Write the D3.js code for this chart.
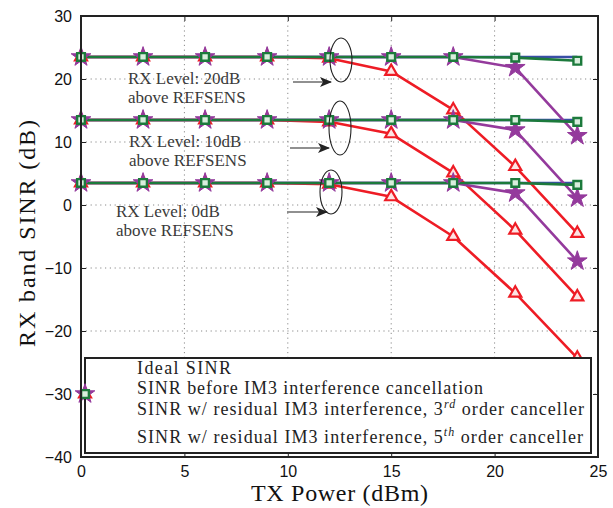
<!DOCTYPE html>
<html>
<head>
<meta charset="utf-8">
<script src="https://cdn.jsdelivr.net/npm/d3@7"></script>
<style>
  html, body { margin: 0; padding: 0; background: #fff; }
  svg { display: block; }
  .tick-label { font-family: "Liberation Sans", Arial, sans-serif; font-size: 16px; fill: #111; }
  .serif { font-family: "Liberation Serif", "Times New Roman", serif; }
</style>
</head>
<body>
<div id="chart"></div>
<script>
// --- Data ---
const txPower = [0, 3, 6, 9, 12, 15, 18, 21, 24];
const rxLevels = ['20dB', '10dB', '0dB'];

// one row per RX level (20, 10, 0 dB above REFSENS)
const idealSinr = [
  [23.5, 23.5, 23.5, 23.5, 23.5, 23.5, 23.5, 23.5, 23.5],
  [13.5, 13.5, 13.5, 13.5, 13.5, 13.5, 13.5, 13.5, 13.5],
  [3.5, 3.5, 3.5, 3.5, 3.5, 3.5, 3.5, 3.5, 3.5]
];
const sinrBefore = [
  [23.5, 23.5, 23.5, 23.5, 23.3, 21.2, 15.1, 6.1, -4.5],
  [13.5, 13.5, 13.5, 13.5, 13.2, 11.3, 5.1, -4.0, -14.6],
  [3.5, 3.5, 3.5, 3.5, 3.3, 1.3, -5.0, -14.0, -24.3]
];
const sinr3rd = [
  [23.5, 23.5, 23.5, 23.5, 23.5, 23.5, 23.5, 21.8, 11.0],
  [13.5, 13.5, 13.5, 13.5, 13.5, 13.5, 13.5, 11.9, 1.1],
  [3.5, 3.5, 3.5, 3.5, 3.5, 3.5, 3.5, 1.9, -8.9]
];
const sinr5th = [
  [23.5, 23.5, 23.5, 23.5, 23.5, 23.5, 23.5, 23.4, 22.9],
  [13.5, 13.5, 13.5, 13.5, 13.5, 13.5, 13.5, 13.5, 13.2],
  [3.5, 3.5, 3.5, 3.5, 3.5, 3.5, 3.5, 3.5, 3.2]
];

const xTicks = [0, 5, 10, 15, 20, 25];
const yTicks = [-40, -30, -20, -10, 0, 10, 20, 30];

const legendLabels = [
  ['Ideal SINR'],
  ['SINR before IM3 interference cancellation'],
  ['SINR w/ residual IM3 interference, 3', 'rd', ' order canceller'],
  ['SINR w/ residual IM3 interference, 5', 'th', ' order canceller']
];

// annotation: text lines, where the text sits, where the arrow points, the ellipse
const notes = [
  { lines: ['RX Level: 20dB', 'above REFSENS'], tx: 128, ty: 84, ax1: 293, ax2: 331, ay: 82, ex: 341, ey: 60, rx: 11, ry: 22 },
  { lines: ['RX Level: 10dB', 'above REFSENS'], tx: 129, ty: 147, ax1: 290, ax2: 329, ay: 148, ex: 340, ey: 128, rx: 11, ry: 27 },
  { lines: ['RX Level: 0dB', 'above REFSENS'], tx: 116, ty: 217, ax1: 287, ax2: 327, ay: 212, ex: 331, ey: 192, rx: 11, ry: 22 }
];

// --- Setup ---
const W = 613, H = 508;
const margin = { left: 81, right: 15, top: 16, bottom: 51 };

const svg = d3.select('#chart').append('svg')
  .attr('width', W)
  .attr('height', H);

const x = d3.scaleLinear().domain([0, 25]).range([margin.left, W - margin.right]);
const y = d3.scaleLinear().domain([-40, 30]).range([H - margin.bottom, margin.top]);

const colors = { ideal: '#3a4ea6', before: '#ee1c25', third: '#943a9c', fifth: '#1c7a3c' };

// --- Grid ---
const grid = svg.append('g').attr('stroke', '#8a8a8a').attr('stroke-dasharray', '1.2,3.6').attr('stroke-width', 1);
grid.selectAll('.gx').data(xTicks.slice(1, -1)).enter().append('line')
  .attr('x1', d => x(d)).attr('x2', d => x(d))
  .attr('y1', y(30)).attr('y2', y(-40));
grid.selectAll('.gy').data(yTicks.slice(1, -1)).enter().append('line')
  .attr('x1', x(0)).attr('x2', x(25))
  .attr('y1', d => y(d)).attr('y2', d => y(d));

// --- Axes (ticks in, on all four sides, like matlab box on) ---
const axisBottom = d3.axisBottom(x).tickValues(xTicks).tickSizeInner(-5).tickSizeOuter(0).tickPadding(9);
const axisLeft = d3.axisLeft(y).tickValues(yTicks).tickSizeInner(-5).tickSizeOuter(0).tickPadding(9);
const axisTop = d3.axisTop(x).tickValues(xTicks).tickSizeInner(-5).tickSizeOuter(0).tickFormat('');
const axisRight = d3.axisRight(y).tickValues(yTicks).tickSizeInner(-5).tickSizeOuter(0).tickFormat('');

function styleAxis(g) {
  g.select('.domain').remove();
  g.selectAll('.tick line').attr('stroke', '#222').attr('stroke-width', 1);
  g.selectAll('.tick text').attr('class', 'tick-label').attr('fill', '#111');
}
svg.append('g').attr('transform', `translate(0,${y(-40)})`).call(axisBottom).call(styleAxis);
svg.append('g').attr('transform', `translate(${x(0)},0)`).call(axisLeft).call(styleAxis);
svg.append('g').attr('transform', `translate(0,${y(30)})`).call(axisTop).call(styleAxis);
svg.append('g').attr('transform', `translate(${x(25)},0)`).call(axisRight).call(styleAxis);

svg.selectAll('.tick-label').style('font-family', '"Liberation Sans", Arial, sans-serif').style('font-size', '16px');

// --- Series ---
const line = d3.line().x((d, i) => x(txPower[i])).y(d => y(d));
const sym = (type, size) => d3.symbol().type(type).size(size)();

const series = [
  { key: 'ideal', rows: idealSinr, marker: null },
  { key: 'before', rows: sinrBefore, marker: { path: sym(d3.symbolTriangle, 62), fill: '#fde4e4', sw: 2.2 } },
  { key: 'third', rows: sinr3rd, marker: { path: sym(d3.symbolStar, 120), fill: colors.third, sw: 1 } },
  { key: 'fifth', rows: sinr5th, marker: { path: sym(d3.symbolSquare, 60), fill: '#d9eedd', sw: 2.4 } }
];

// lines first, all levels
series.forEach(s => {
  svg.append('g').selectAll('path').data(s.rows).enter().append('path')
    .attr('d', line)
    .attr('fill', 'none')
    .attr('stroke', colors[s.key])
    .attr('stroke-width', 2.6)
    .attr('stroke-linejoin', 'round');
});
// then markers on top
series.forEach(s => {
  if (!s.marker) return;
  const pts = [];
  s.rows.forEach(row => row.forEach((v, i) => pts.push([txPower[i], v])));
  svg.append('g').selectAll('path').data(pts).enter().append('path')
    .attr('d', s.marker.path)
    .attr('transform', d => `translate(${x(d[0])},${y(d[1])})`)
    .attr('fill', s.marker.fill)
    .attr('stroke', colors[s.key])
    .attr('stroke-width', s.marker.sw)
    .attr('stroke-linejoin', 'miter');
});

// --- Annotations ---
svg.append('defs').append('marker')
  .attr('id', 'arrowhead')
  .attr('viewBox', '0 0 12 10')
  .attr('refX', 11).attr('refY', 5)
  .attr('markerWidth', 12).attr('markerHeight', 10)
  .attr('markerUnits', 'userSpaceOnUse')
  .attr('orient', 'auto')
  .append('path')
  .attr('d', 'M0,0 L12,5 L0,10 L3,5 Z')
  .attr('fill', '#222');

notes.forEach(n => {
  const t = svg.append('text').attr('class', 'serif')
    .attr('x', n.tx).attr('y', n.ty)
    .attr('font-size', 17).attr('fill', '#3a3a3a');
  n.lines.forEach((l, i) => t.append('tspan').attr('x', n.tx).attr('dy', i ? 19 : 0).text(l));

  svg.append('line')
    .attr('x1', n.ax1).attr('x2', n.ax2).attr('y1', n.ay).attr('y2', n.ay)
    .attr('stroke', '#222').attr('stroke-width', 1.2)
    .attr('marker-end', 'url(#arrowhead)');

  svg.append('ellipse')
    .attr('cx', n.ex).attr('cy', n.ey).attr('rx', n.rx).attr('ry', n.ry)
    .attr('fill', 'none').attr('stroke', '#222').attr('stroke-width', 1.1);
});

// --- Legend ---
const lg = { x0: 85, y0: 358, x1: 591, y1: 453 };
svg.append('rect')
  .attr('x', lg.x0).attr('y', lg.y0)
  .attr('width', lg.x1 - lg.x0).attr('height', lg.y1 - lg.y0)
  .attr('fill', '#fff').attr('stroke', '#222').attr('stroke-width', 2);

const legendBaselines = [374, 394, 415, 443];
const legendWidths = [94, 346, 447, 446];
legendLabels.forEach((parts, i) => {
  const t = svg.append('text').attr('class', 'serif')
    .attr('x', 137).attr('y', legendBaselines[i])
    .attr('font-size', 18).attr('fill', '#222')
    .attr('textLength', legendWidths[i]).attr('lengthAdjust', 'spacing');
  t.append('tspan').text(parts[0]);
  if (parts.length > 1) {
    t.append('tspan').attr('dy', -7).attr('font-size', 12).attr('font-style', 'italic').text(parts[1]);
    t.append('tspan').attr('dy', 7).text(parts[2]);
  }
});

// legend markers end up stacked on the box edge (no sample lines)
series.forEach(s => {
  if (!s.marker) return;
  svg.append('path')
    .attr('d', s.marker.path)
    .attr('transform', `translate(${lg.x0},${y(-30)})`)
    .attr('fill', s.marker.fill)
    .attr('stroke', colors[s.key])
    .attr('stroke-width', s.marker.sw);
});

// --- Frame ---
svg.append('rect')
  .attr('x', x(0)).attr('y', y(30))
  .attr('width', x(25) - x(0)).attr('height', y(-40) - y(30))
  .attr('fill', 'none').attr('stroke', '#222').attr('stroke-width', 2);

// --- Axis titles ---
svg.append('text').attr('class', 'serif')
  .attr('x', (x(0) + x(25)) / 2).attr('y', 501)
  .attr('text-anchor', 'middle')
  .attr('font-size', 24).attr('fill', '#111')
  .attr('textLength', 177).attr('lengthAdjust', 'spacing')
  .text('TX Power (dBm)');

svg.append('text').attr('class', 'serif')
  .attr('transform', `translate(35,${y(-40) - (y(-40) - y(30)) / 2 - 3}) rotate(-90)`)
  .attr('text-anchor', 'middle')
  .attr('font-size', 24).attr('fill', '#111')
  .attr('textLength', 227).attr('lengthAdjust', 'spacing')
  .text('RX band SINR (dB)');
</script>
</body>
</html>
